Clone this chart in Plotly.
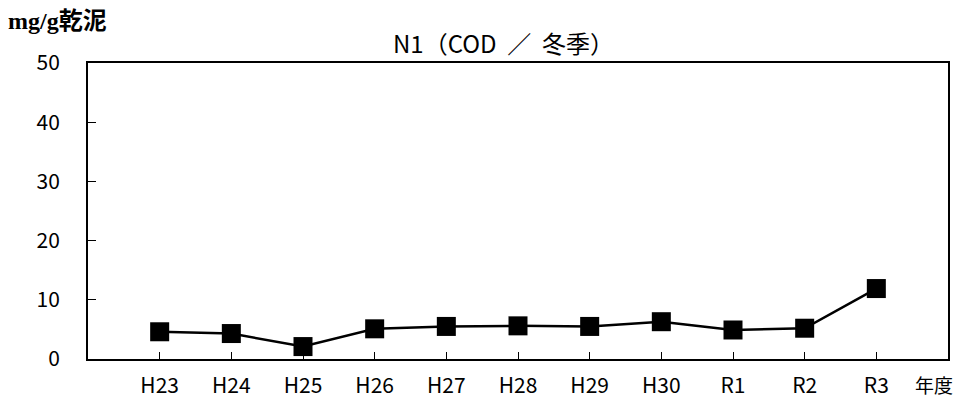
import plotly.graph_objects as go

years = ["H23", "H24", "H25", "H26", "H27", "H28", "H29", "H30", "R1", "R2", "R3"]
values = [4.6, 4.3, 2.1, 5.1, 5.5, 5.6, 5.5, 6.3, 4.9, 5.2, 11.9]
y_ticks = [0, 10, 20, 30, 40, 50]

title_text = "N1（COD  ／  冬季）"
unit_text = "<b>mg/g乾泥</b>"
x_unit_text = "年度"

fig = go.Figure()
fig.add_trace(go.Scatter(
    x=years, y=values, mode="lines+markers",
    line=dict(color="black", width=2.5),
    marker=dict(symbol="square", size=19, color="black"),
    showlegend=False,
))

axis_font = dict(family="Noto Sans CJK JP, sans-serif", size=21, color="black")

fig.update_layout(
    width=964, height=412,
    margin=dict(l=88, r=16, t=63, b=53),
    paper_bgcolor="white", plot_bgcolor="white",
    xaxis=dict(
        type="category", range=[-1, 11],
        showline=True, linecolor="black", linewidth=2, mirror=True,
        ticks="inside", ticklen=7, tickwidth=1, tickcolor="black",
        showgrid=False, zeroline=False,
        tickfont=axis_font, ticklabelstandoff=7,
    ),
    yaxis=dict(
        range=[0, 50], tickvals=y_ticks,
        showline=True, linecolor="black", linewidth=2, mirror=True,
        ticks="inside", ticklen=8, tickwidth=1, tickcolor="black",
        showgrid=False, zeroline=False,
        tickfont=axis_font, ticklabelstandoff=22,
    ),
    annotations=[
        dict(text=title_text, xref="paper", yref="paper",
             x=(503 - 88) / 860, y=1, xanchor="center", yanchor="bottom", yshift=1,
             showarrow=False,
             font=dict(family="Noto Sans CJK JP, sans-serif", size=24, color="black")),
        dict(text=unit_text, xref="paper", yref="paper",
             x=-82 / 860, y=1, xanchor="left", yanchor="bottom", yshift=27,
             showarrow=False,
             font=dict(family="Liberation Serif, Noto Sans CJK JP, serif", size=24, color="black")),
        dict(text=x_unit_text, xref="paper", yref="paper",
             x=(934 - 88) / 860, y=0, xanchor="center", yanchor="top", yshift=-10,
             showarrow=False,
             font=dict(family="Noto Sans CJK JP, sans-serif", size=19, color="black")),
    ],
)

fig.write_html("out.html", config={"displayModeBar": False},
               post_script="document.body.style.margin='0';")
